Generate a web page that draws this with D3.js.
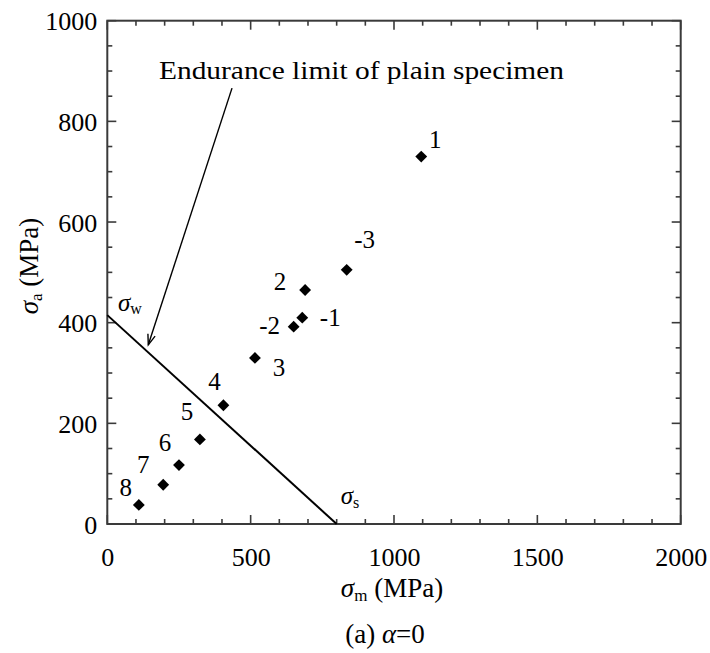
<!DOCTYPE html>
<html>
<head>
<meta charset="utf-8">
<script src="https://cdn.jsdelivr.net/npm/d3@7/dist/d3.min.js"></script>
</head>
<body style="margin:0;background:#fff">
<svg id="chart" width="710" height="653" style="display:block"></svg>
<script>
// Specimen results: mean stress vs. stress amplitude (MPa)
const specimenLabels = ["1", "-3", "2", "-1", "-2", "3", "4", "5", "6", "7", "8"];
const meanStress     = [1095, 835, 690, 680, 650, 515, 405, 323, 250, 195, 110];
const stressAmp      = [730, 505, 465, 410, 392, 330, 236, 168, 117, 78, 38];

// Endurance limit line of the plain specimen: from σw on the σa axis to σs on the σm axis
const sigmaW = 415;
const sigmaS = 800;

const xTickValues = [0, 500, 1000, 1500, 2000];
const yTickValues = [0, 200, 400, 600, 800, 1000];

// Label placement around each marker (pixels: dx, baseline dy)
const labelOffset = {
  "1": [14, -9], "-3": [18, -22], "2": [-25, 0], "-1": [28, 8], "-2": [-24, 7],
  "3": [24, 18], "4": [-9, -15], "5": [-13, -19], "6": [-14, -14], "7": [-20, -12], "8": [-13, -9]
};

const FONT = "'Liberation Serif', 'Times New Roman', Times, serif";
const svg = d3.select("#chart").style("font-family", FONT, "important");
const plotL = 107.3, plotR = 680.7, plotT = 20.7, plotB = 524;

const x = d3.scaleLinear().domain([0, 2000]).range([plotL, plotR]);
const y = d3.scaleLinear().domain([0, 1000]).range([plotB, plotT]);

const axisColor = "#3a3a3a";

function label(sel, size) {
  return sel.attr("font-size", size)
    .attr("font-family", FONT)
    .style("font-family", FONT, "important")
    .attr("fill", "#000");
}

// Frame
svg.append("rect")
  .attr("x", plotL).attr("y", plotT)
  .attr("width", plotR - plotL).attr("height", plotB - plotT)
  .attr("fill", "none").attr("stroke", axisColor).attr("stroke-width", 2);

// Tick marks (inward on all four sides)
const tickG = svg.append("g").attr("stroke", axisColor).attr("stroke-width", 1.6);
d3.range(0, 2001, 100).forEach(v => {
  const len = v % 500 === 0 ? 9 : 5;
  tickG.append("line").attr("x1", x(v)).attr("x2", x(v)).attr("y1", plotB).attr("y2", plotB - len);
  tickG.append("line").attr("x1", x(v)).attr("x2", x(v)).attr("y1", plotT).attr("y2", plotT + len);
});
d3.range(0, 1001, 50).forEach(v => {
  const len = v % 200 === 0 ? 9 : 5;
  tickG.append("line").attr("y1", y(v)).attr("y2", y(v)).attr("x1", plotL).attr("x2", plotL + len);
  tickG.append("line").attr("y1", y(v)).attr("y2", y(v)).attr("x1", plotR).attr("x2", plotR - len);
});

// Tick labels through d3 axes (tick lines drawn above)
const xAxis = svg.append("g").attr("transform", `translate(0,${plotB})`)
  .call(d3.axisBottom(x).tickValues(xTickValues).tickSize(0).tickPadding(24).tickFormat(d3.format("d")));
const yAxis = svg.append("g").attr("transform", `translate(${plotL},0)`)
  .call(d3.axisLeft(y).tickValues(yTickValues).tickSize(0).tickPadding(10).tickFormat(d3.format("d")));
[xAxis, yAxis].forEach(g => {
  g.attr("font-family", FONT).attr("font-size", 26);
  g.select(".domain").remove();
  label(g.selectAll("text"), 26);
});
yAxis.selectAll("text").attr("dy", "0.35em");

// Endurance limit line
svg.append("line")
  .attr("x1", x(0)).attr("y1", y(sigmaW))
  .attr("x2", x(sigmaS)).attr("y2", y(0))
  .attr("stroke", "#000").attr("stroke-width", 2);

// σw and σs labels
const sw = label(svg.append("text").attr("x", 118).attr("y", 311), 25);
sw.append("tspan").attr("font-style", "italic").text("σ");
sw.append("tspan").attr("font-size", 16).attr("dy", 3).text("w");
const ss = label(svg.append("text").attr("x", x(sigmaS) + 4).attr("y", 504), 25);
ss.append("tspan").attr("font-style", "italic").text("σ");
ss.append("tspan").attr("font-size", 16).attr("dy", 4).text("s");

// Annotation and arrow
label(svg.append("text").attr("x", 159).attr("y", 79), 25)
  .attr("textLength", 405).attr("lengthAdjust", "spacingAndGlyphs")
  .text("Endurance limit of plain specimen");
const arrowFrom = [x(435), y(866)], arrowTo = [x(143), y(356)];
svg.append("line")
  .attr("x1", arrowFrom[0]).attr("y1", arrowFrom[1])
  .attr("x2", arrowTo[0]).attr("y2", arrowTo[1])
  .attr("stroke", "#000").attr("stroke-width", 1.4);
const ang = Math.atan2(arrowTo[1] - arrowFrom[1], arrowTo[0] - arrowFrom[0]);
const headLen = 11, headSpread = 0.35;
svg.append("path")
  .attr("d", `M${arrowTo[0] - headLen * Math.cos(ang - headSpread)},${arrowTo[1] - headLen * Math.sin(ang - headSpread)}
              L${arrowTo[0]},${arrowTo[1]}
              L${arrowTo[0] - headLen * Math.cos(ang + headSpread)},${arrowTo[1] - headLen * Math.sin(ang + headSpread)}`)
  .attr("fill", "none").attr("stroke", "#000").attr("stroke-width", 1.4);

// Data markers (filled diamonds)
const points = specimenLabels.map((lab, i) => ({ lab, xm: meanStress[i], ya: stressAmp[i] }));
const diamond = d3.symbol().type(d3.symbolSquare).size(70);
svg.append("g").selectAll("path").data(points).join("path")
  .attr("d", diamond)
  .attr("transform", d => `translate(${x(d.xm)},${y(d.ya)}) rotate(45)`)
  .attr("fill", "#000");

label(svg.append("g").selectAll("text").data(points).join("text")
  .attr("x", d => x(d.xm) + labelOffset[d.lab][0])
  .attr("y", d => y(d.ya) + labelOffset[d.lab][1])
  .attr("text-anchor", "middle"), 25)
  .text(d => d.lab);

// Axis titles
const yt = label(svg.append("text")
  .attr("transform", `translate(38,266) rotate(-90)`)
  .attr("text-anchor", "middle"), 27);
yt.append("tspan").attr("font-style", "italic").text("σ");
yt.append("tspan").attr("font-size", 17).attr("dy", 4).text("a");
yt.append("tspan").attr("dy", -4).text(" (MPa)");

const xt = label(svg.append("text")
  .attr("x", 392).attr("y", 597)
  .attr("text-anchor", "middle"), 27);
xt.append("tspan").attr("font-style", "italic").text("σ");
xt.append("tspan").attr("font-size", 17).attr("dy", 4).text("m");
xt.append("tspan").attr("dy", -4).text(" (MPa)");

// Caption
const cap = label(svg.append("text")
  .attr("x", 385).attr("y", 643)
  .attr("text-anchor", "middle"), 27);
cap.append("tspan").text("(a) ");
cap.append("tspan").attr("font-style", "italic").text("α");
cap.append("tspan").text("=0");
</script>
</body>
</html>
